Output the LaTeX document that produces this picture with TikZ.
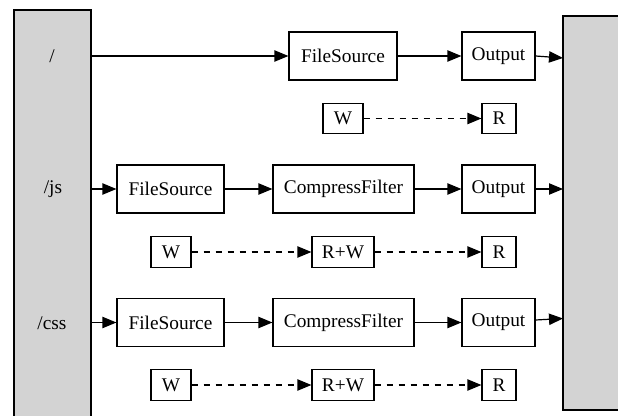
\documentclass[tikz,border=0pt]{standalone}
\usepackage{fontspec}
\setmainfont{Liberation Serif}
\usetikzlibrary{arrows.meta}
\definecolor{graybox}{HTML}{D3D3D3}
\begin{document}
\begin{tikzpicture}[x=0.75pt,y=-0.75pt,
  every node/.style={font=\fontsize{14.5}{16}\selectfont},
  box/.style={draw,line width=0.9pt,rectangle,inner sep=0pt,minimum height=36pt},
  sbox/.style={draw,line width=0.9pt,rectangle,inner sep=0pt,minimum height=23pt},
  lbl/.style={inner sep=0pt},
  conn/.style={line width=0.9pt,-{Triangle[length=10.5pt,width=8.5pt]}},
  dconn/.style={conn,dash pattern=on 4.5pt off 4.5pt}]
\useasboundingbox (0,0) rectangle (618,416);
\begin{scope}
\clip (0,0) rectangle (618,416);
% gray side blocks
\fill[graybox] (14,10) rectangle (91,420);
\draw[line width=0.9pt] (14,420) -- (14,10) -- (91,10) -- (91,420);
\fill[graybox] (563,16) rectangle (622,410);
\draw[line width=0.9pt] (622,16) -- (563,16) -- (563,410) -- (622,410);
\end{scope}
% labels on the left block
\node[lbl] (root) at (52,56) {/};
\node[lbl] (js) at (53,189) {/js};
\node[lbl] (css) at (52,323) {/css};
\coordinate (l1) at (91,56);
\coordinate (l2) at (91,189);
\coordinate (l3) at (91,322.5);
\coordinate (r1) at (563,58);
\coordinate (r2) at (563,189);
\coordinate (r3) at (563,318.5);
% row 1
\node[box,minimum width=81pt] (fs1) at (343,56) {FileSource};
\node[box,minimum width=54.75pt] (out1) at (498.5,56) {Output};
\node[sbox,minimum width=30pt] (w1) at (343,118.5) {W};
\node[sbox,minimum width=25.5pt] (rr1) at (499,118.5) {R};
% row 2
\node[box,minimum width=80.25pt] (fs2) at (170.5,189) {FileSource};
\node[box,minimum width=105.75pt] (cf2) at (343.5,189) {CompressFilter};
\node[box,minimum width=54.75pt] (out2) at (498.5,189) {Output};
\node[sbox,minimum width=30pt] (w2) at (171,252) {W};
\node[sbox,minimum width=46.5pt] (rw2) at (343,252) {R+W};
\node[sbox,minimum width=25.5pt] (rr2) at (499,252) {R};
% row 3
\node[box,minimum width=80.25pt] (fs3) at (170.5,322.5) {FileSource};
\node[box,minimum width=105.75pt] (cf3) at (343.5,322.5) {CompressFilter};
\node[box,minimum width=54.75pt] (out3) at (498.5,322.5) {Output};
\node[sbox,minimum width=30pt] (w3) at (171,385) {W};
\node[sbox,minimum width=46.5pt] (rw3) at (343,385) {R+W};
\node[sbox,minimum width=25.5pt] (rr3) at (499,385) {R};
% connectors
\draw[conn] (l1) -- (fs1.west);
\draw[conn] (fs1) -- (out1);
\draw[conn] (out1.east) -- (r1);
\draw[dconn] (w1) -- (rr1);
\draw[conn] (l2) -- (fs2.west);
\draw[conn] (fs2) -- (cf2);
\draw[conn] (cf2) -- (out2);
\draw[conn] (out2.east) -- (r2);
\draw[dconn] (w2) -- (rw2);
\draw[dconn] (rw2) -- (rr2);
\draw[conn] (l3) -- (fs3.west);
\draw[conn] (fs3) -- (cf3);
\draw[conn] (cf3) -- (out3);
\draw[conn] ([yshift=1.875pt]out3.east) -- (r3);
\draw[dconn] (w3) -- (rw3);
\draw[dconn] (rw3) -- (rr3);
\end{tikzpicture}
\end{document}
